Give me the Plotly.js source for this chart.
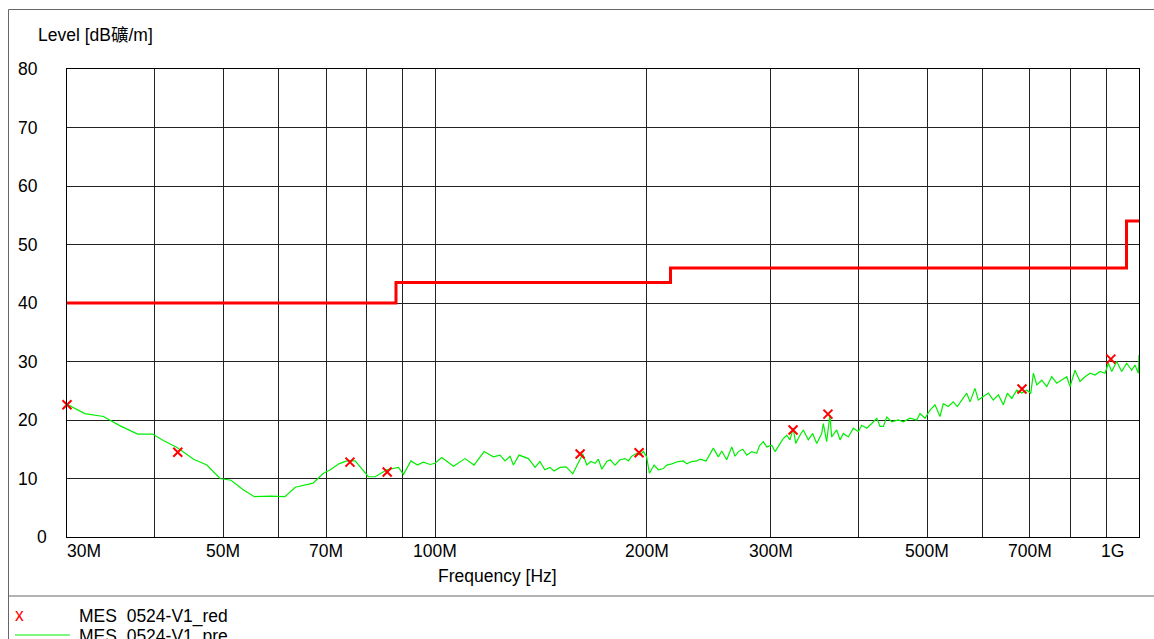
<!DOCTYPE html>
<html>
<head>
<meta charset="utf-8">
<script src="https://cdn.plot.ly/plotly-3.0.1.min.js"></script>
<style>
html,body{margin:0;padding:0;background:#fff;}
#chart{width:1154px;height:639px;}
</style>
</head>
<body>
<div id="chart"></div>
<script>
// ---- data (frequency in MHz, level in dBµV/m) ----
const preFreq = [30.0,31.8,33.8,35.7,37.8,39.7,41.1,43.0,45.4,47.4,49.5,51.3,53.5,55.4,58.3,61.2,63.3,67.1,69.4,71.0,73.0,74.9,77.0,80.4,82.2,85.4,88.7,90.2,92.4,94.4,96.2,98.4,100.0,102.2,106.2,110.3,113.6,117.4,121.0,123.7,125.7,127.8,129.2,131.6,135.7,138.7,140.9,143.2,145.6,147.6,150.5,153.5,156.9,159.8,162.1,164.3,166.4,168.8,170.6,172.5,175.4,177.3,180.2,183.1,186.2,188.2,190.3,193.4,195.5,197.7,199.8,201.6,204.7,207.6,211.0,213.4,216.9,221.6,225.3,227.8,231.5,235.3,237.9,242.6,248.5,252.6,255.4,259.6,263.9,266.8,269.7,273.6,277.2,281.8,286.4,288.9,292.6,295.9,300.8,304.1,307.3,311.8,315.9,319.3,322.7,325.3,329.9,333.5,339.0,343.9,348.5,354.2,356.1,360.0,363.9,365.9,372.0,376.1,380.2,386.4,392.8,399.3,403.7,410.4,417.2,424.1,428.7,433.4,438.2,445.4,455.1,462.6,472.8,483.3,488.6,496.6,504.8,513.1,521.6,527.2,535.9,544.7,551.9,560.0,569.2,575.4,584.8,591.2,600.9,610.9,620.9,631.2,641.6,650.1,659.6,670.5,681.5,692.8,701.9,707.9,715.8,727.6,739.6,751.6,764.1,776.7,789.5,798.0,811.2,824.6,838.2,852.0,866.1,880.4,894.9,904.6,914.6,929.7,945.0,960.6,976.4,987.0,997.7,1000.0];
const preLevel = [22.7,21.1,20.6,19.0,17.6,17.6,16.5,15.3,13.3,12.3,10.0,9.7,8.0,6.9,7.0,6.9,8.5,9.2,10.9,11.5,12.5,13.0,13.0,10.3,10.3,11.5,11.9,10.7,13.0,12.3,12.8,12.4,12.6,13.6,12.1,13.4,12.3,14.6,13.7,14.0,13.0,13.8,12.3,14.0,13.4,11.9,12.9,11.5,11.9,11.3,11.9,12.0,10.8,12.6,14.2,12.3,12.9,12.6,13.3,11.6,12.9,13.2,12.3,13.2,13.4,13.0,13.8,14.3,14.0,14.6,13.7,10.9,12.3,11.5,11.7,12.3,12.5,12.9,13.0,12.5,12.9,13.0,13.3,13.0,15.2,13.7,14.7,13.2,15.4,13.8,14.6,15.0,14.0,14.6,14.3,15.6,16.3,15.4,15.7,14.6,15.4,16.7,17.4,16.6,18.6,16.0,17.4,18.3,16.6,17.7,16.0,17.7,19.4,16.3,20.9,17.1,18.3,16.6,17.7,17.1,18.6,18.0,19.1,18.6,19.4,20.3,18.9,18.9,20.5,19.7,20.0,19.7,20.3,20.0,21.1,20.3,21.7,22.6,20.6,22.8,22.3,23.1,22.3,23.4,24.6,23.1,25.4,23.4,24.0,24.6,23.4,24.3,22.6,24.6,23.7,25.1,24.6,25.1,24.6,28.0,26.0,26.8,25.7,27.4,26.3,26.8,27.4,25.7,28.5,26.6,27.4,28.0,27.7,28.3,28.0,29.7,28.3,30.0,28.3,29.7,28.5,29.4,28.0,31.1];

const redFreq  = [30.0,43.1,75.7,85.5,160.7,194.9,322.5,361.5,682.0,912.0];
const redLevel = [22.6,14.5,12.8,11.1,14.2,14.4,18.3,21.0,25.3,30.4];

const limitFreq  = [30,88,216,960,1000];
const limitLevel = [40,43.5,46,54,54];

const gridFreq = [40,50,60,70,80,90,100,200,300,400,500,600,700,800,900];
const xTickVals = [30,50,70,100,200,300,500,700,1000];
const xTickText = ['30M','50M','70M','100M','200M','300M','500M','700M','1G'];
const yTickVals = [0,10,20,30,40,50,60,70,80];
const yTickText = ['0','10','20','30','40','50','60','70','80'];

const seriesNames = ['MES\u00a0\u00a00524-V1_red','MES\u00a0\u00a00524-V1_pre'];
const yTitle = 'Level [dB礦/m]';
const xTitle = 'Frequency [Hz]';

// ---- layout helpers ----
const W = 1154, H = 639, L = 67, R = 15, T = 69, B = 102;
const pw = W - L - R, ph = H - T - B;
const px = X => (X - L) / pw;
const py = Y => (H - B - Y) / ph;
const FONT = 'Liberation Sans, Arial, Noto Sans CJK SC, sans-serif';
const FS = 17.5;

const traces = [
  {x: preFreq, y: preLevel, type: 'scatter', mode: 'lines', name: seriesNames[1],
   line: {color: '#00ee00', width: 1.2}, hoverinfo: 'x+y'},
  {x: limitFreq, y: limitLevel, type: 'scatter', mode: 'lines', name: 'Limit',
   line: {color: '#ff0000', width: 3, shape: 'hv'}},
  {x: redFreq, y: redLevel, type: 'scatter', mode: 'markers', name: seriesNames[0],
   cliponaxis: false,
   marker: {symbol: 'x-thin', size: 9, line: {color: '#ff0000', width: 2}, color: '#ff0000'}}
];

const annotations = [];
xTickVals.forEach((v, i) => {
  let shift = 0;
  if (i === 0) shift = 17;
  if (i === xTickVals.length - 1) shift = -27;
  annotations.push({x: Math.log10(v), xref: 'x', y: py(551), yref: 'paper', text: xTickText[i],
    showarrow: false, xanchor: 'center', yanchor: 'middle', xshift: shift,
    font: {family: FONT, size: FS, color: '#000'}});
});
yTickVals.forEach((v, i) => {
  annotations.push({x: px(yTickText[i].length === 1 ? 49 : 40), xref: 'paper', y: v, yref: 'y', text: yTickText[i],
    showarrow: false, xanchor: 'right', yanchor: 'middle',
    font: {family: FONT, size: FS, color: '#000'}});
});
annotations.push({x: px(36), xref: 'paper', y: py(35), yref: 'paper', text: yTitle, showarrow: false,
  xanchor: 'left', yanchor: 'middle', font: {family: FONT, size: FS, color: '#000'}});
annotations.push({x: px(497), xref: 'paper', y: py(576), yref: 'paper', text: xTitle, showarrow: false,
  xanchor: 'center', yanchor: 'middle', font: {family: FONT, size: FS, color: '#000'}});
// legend
annotations.push({x: px(19), xref: 'paper', y: py(615), yref: 'paper', text: 'x', showarrow: false,
  xanchor: 'center', yanchor: 'middle', font: {family: FONT, size: FS, color: '#ff0000'}});
annotations.push({x: px(77), xref: 'paper', y: py(616), yref: 'paper', text: seriesNames[0], showarrow: false,
  xanchor: 'left', yanchor: 'middle', font: {family: FONT, size: FS, color: '#000'}});
annotations.push({x: px(77), xref: 'paper', y: py(636), yref: 'paper', text: seriesNames[1], showarrow: false,
  xanchor: 'left', yanchor: 'middle', font: {family: FONT, size: FS, color: '#000'}});

const frame = {color: '#666', width: 1};
const shapes = [
  {type: 'line', xref: 'paper', yref: 'paper', x0: px(8.5), x1: px(8.5), y0: py(9.5), y1: py(645), line: frame},
  {type: 'line', xref: 'paper', yref: 'paper', x0: px(8.5), x1: px(1160), y0: py(9.5), y1: py(9.5), line: frame},
  {type: 'line', xref: 'paper', yref: 'paper', x0: px(8.5), x1: px(1160), y0: py(596), y1: py(596), line: frame},
  {type: 'line', xref: 'paper', yref: 'paper', x0: px(15), x1: px(70), y0: py(635), y1: py(635), line: {color: '#00ee00', width: 1.2}}
];

const layout = {
  width: W, height: H,
  margin: {l: L, r: R, t: T, b: B, pad: 0},
  paper_bgcolor: '#fff', plot_bgcolor: '#fff',
  showlegend: false,
  font: {family: FONT, size: FS, color: '#000'},
  xaxis: {type: 'log', range: [Math.log10(30), Math.log10(1000)], tickvals: gridFreq,
    showticklabels: false, ticks: '', showgrid: true, gridcolor: '#222', gridwidth: 1,
    showline: true, mirror: true, linecolor: '#000', linewidth: 1, zeroline: false, fixedrange: true},
  yaxis: {range: [0, 80], tickvals: yTickVals, showticklabels: false, ticks: '',
    showgrid: true, gridcolor: '#222', gridwidth: 1,
    showline: true, mirror: true, linecolor: '#000', linewidth: 1, zeroline: false, fixedrange: true},
  annotations: annotations,
  shapes: shapes
};

Plotly.newPlot('chart', traces, layout, {staticPlot: true, displayModeBar: false});
</script>
</body>
</html>
